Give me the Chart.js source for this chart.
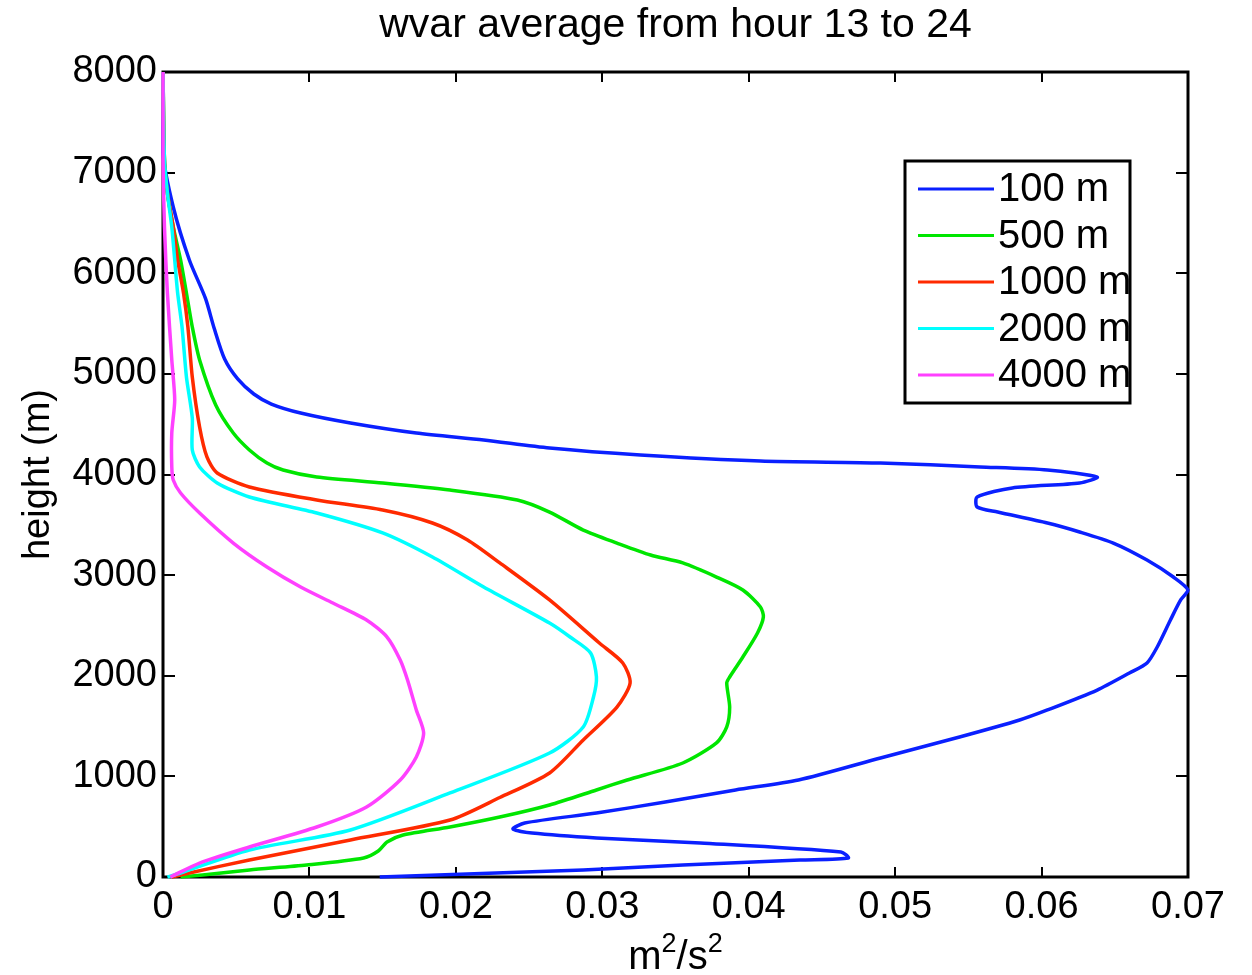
<!DOCTYPE html>
<html>
<head>
<meta charset="utf-8">
<script src="https://cdn.jsdelivr.net/npm/chart.js@4.4.1/dist/chart.umd.min.js"></script>
<style>
  html, body { margin: 0; padding: 0; background: #ffffff; }
  #wrap { width: 1252px; height: 975px; }
</style>
</head>
<body>
<div id="wrap"><canvas id="c" width="1252" height="975"></canvas></div>
<script>
// Profiles of vertical-velocity variance (m^2/s^2) against height (m)
const seriesLabels = ['100 m', '500 m', '1000 m', '2000 m', '4000 m'];
const seriesColors = ['#0a20ff', '#00e600', '#ff2a00', '#00ffff', '#ff40ff'];

const height100 = [0,70,119,169,189,248,338,388,437,477,537,636,745,865,964,1183,1391,1560,1660,1858,2027,2127,2286,2554,2753,2852,2981,3150,3319,3429,3518,3627,3677,3776,3866,3916,3975,4045,4075,4114,4134,4194,4263,4343,4412,4512,4611,4700,4800,4950,5150,5450,5750,6132,6658,7195,8000];
const wvar100 = [0.0148,0.0287,0.0355,0.0435,0.0468,0.0463,0.0367,0.0296,0.0252,0.0239,0.0247,0.0296,0.0343,0.0391,0.0434,0.049,0.0544,0.0585,0.0604,0.0638,0.066,0.0672,0.0679,0.0688,0.0695,0.07,0.069,0.0672,0.0649,0.0626,0.0604,0.057,0.0556,0.0556,0.058,0.0626,0.0638,0.0604,0.0558,0.049,0.0408,0.0326,0.0264,0.0219,0.0173,0.0128,0.0094,0.0074,0.0062,0.0051,0.0042,0.0035,0.0029,0.0018,0.0007,0,0];

const height500 = [0,20,70,119,189,258,348,417,497,596,716,865,964,1133,1332,1491,1689,1928,1988,2186,2425,2584,2683,2852,2981,3121,3200,3319,3448,3627,3747,3846,3916,3975,4045,4114,4244,4412,4691,5138,5466,5804,6132,6460,6798,7126,8000];
const wvar500 = [0.0012,0.0027,0.0059,0.0098,0.0137,0.0147,0.0153,0.0164,0.0196,0.023,0.0264,0.0296,0.0317,0.0355,0.0378,0.0385,0.0387,0.0385,0.0387,0.0396,0.0406,0.041,0.0408,0.0396,0.0378,0.0355,0.0333,0.031,0.0287,0.0264,0.0242,0.0196,0.015,0.0105,0.0082,0.0071,0.0059,0.0048,0.0036,0.0025,0.002,0.0016,0.0012,0.0007,0.0003,0.0001,0];

const height1000 = [0,40,169,368,566,790,1034,1362,1689,1928,2127,2325,2753,3121,3349,3518,3647,3747,3876,4015,4174,4472,4969,5466,5804,6132,6460,6798,7126,8000];
const wvar1000 = [0.0006,0.0018,0.0059,0.0128,0.0196,0.023,0.0264,0.0287,0.031,0.0319,0.0314,0.0298,0.0264,0.023,0.0208,0.0184,0.015,0.0105,0.0059,0.0037,0.003,0.0025,0.002,0.0017,0.0014,0.001,0.0007,0.0003,0.0001,0];

const height2000 = [0,40,268,467,835,1232,1491,1789,1988,2226,2385,2524,2882,3180,3419,3617,3776,3916,4075,4244,4562,4969,5466,5804,6132,6460,6798,7126,8000];
const wvar2000 = [0.0003,0.0012,0.0059,0.0128,0.0196,0.0264,0.0287,0.0294,0.0296,0.0292,0.0278,0.0264,0.0219,0.0184,0.015,0.0105,0.0059,0.0037,0.0025,0.002,0.002,0.0016,0.0013,0.001,0.0008,0.0006,0.0003,0.0001,0];

const height4000 = [0,139,298,497,696,964,1193,1431,1660,1958,2157,2385,2554,2723,2882,3081,3319,3617,3816,3945,4075,4412,4740,5138,5804,6460,7126,8000];
const wvar4000 = [0.0005,0.0025,0.0059,0.0105,0.0139,0.0162,0.0173,0.0178,0.0173,0.0167,0.0162,0.0153,0.0139,0.0116,0.0094,0.0071,0.0048,0.0025,0.0012,0.0007,0.0006,0.0006,0.0008,0.0006,0.0003,0.0001,0,0];

const xTicks = [0, 0.01, 0.02, 0.03, 0.04, 0.05, 0.06, 0.07];
const yTicks = [0, 1000, 2000, 3000, 4000, 5000, 6000, 7000, 8000];

const titleText = 'wvar average from hour 13 to 24';
// x-axis unit: base text pieces paired with superscripts
const xTitleParts = [['m', '2'], ['/s', '2']];
const yTitle = 'height (m)';

const FONT = '"Liberation Sans", Arial, Helvetica, sans-serif';

const profiles = [
  [height100, wvar100],
  [height500, wvar500],
  [height1000, wvar1000],
  [height2000, wvar2000],
  [height4000, wvar4000]
];

const datasets = profiles.map(([h, v], i) => ({
  label: seriesLabels[i],
  data: h.map((hh, k) => ({ x: v[k], y: hh })),
  borderColor: seriesColors[i],
  backgroundColor: seriesColors[i],
  borderWidth: 3.5,
  showLine: true,
  pointRadius: 0,
  tension: 0.25,
  fill: false,
  clip: 4,
  order: profiles.length - i
}));

// Box frame and inward tick marks sit underneath the curves
const framePlugin = {
  id: 'matlabFrame',
  beforeDatasetsDraw(chart) {
    const ctx = chart.ctx;
    const a = chart.chartArea;
    const xs = chart.scales.x, ys = chart.scales.y;
    ctx.save();
    ctx.strokeStyle = '#000';
    ctx.lineWidth = 2;
    ctx.beginPath();
    xTicks.forEach(t => {
      const px = Math.round(xs.getPixelForValue(t));
      ctx.moveTo(px, a.bottom); ctx.lineTo(px, a.bottom - 10);
      ctx.moveTo(px, a.top); ctx.lineTo(px, a.top + 10);
    });
    yTicks.forEach(t => {
      const py = Math.round(ys.getPixelForValue(t));
      ctx.moveTo(a.left, py); ctx.lineTo(a.left + 12, py);
      ctx.moveTo(a.right, py); ctx.lineTo(a.right - 12, py);
    });
    ctx.stroke();
    ctx.lineWidth = 3;
    ctx.strokeRect(a.left, a.top, a.right - a.left, a.bottom - a.top);
    ctx.restore();
  },
  // title, unit label and in-axes legend
  afterDraw(chart) {
    const ctx = chart.ctx;
    const a = chart.chartArea;
    ctx.save();
    ctx.fillStyle = '#000';
    ctx.font = '41px ' + FONT;
    ctx.textAlign = 'center';
    ctx.textBaseline = 'middle';
    ctx.fillText(titleText, (a.left + a.right) / 2, 26);

    const baseFont = '40px ' + FONT, supFont = '27px ' + FONT;
    let total = 0;
    xTitleParts.forEach(([b, s]) => {
      ctx.font = baseFont; total += ctx.measureText(b).width;
      ctx.font = supFont; total += ctx.measureText(s).width;
    });
    let cx = (a.left + a.right) / 2 - total / 2;
    const base = 969;
    ctx.textAlign = 'left';
    ctx.textBaseline = 'alphabetic';
    xTitleParts.forEach(([b, s]) => {
      ctx.font = baseFont; ctx.fillText(b, cx, base); cx += ctx.measureText(b).width;
      ctx.font = supFont; ctx.fillText(s, cx, base - 17); cx += ctx.measureText(s).width;
    });

    const lx = 905, ly = 161, lw = 225, lh = 242;
    ctx.fillStyle = '#fff';
    ctx.fillRect(lx, ly, lw, lh);
    ctx.save();
    ctx.beginPath();
    ctx.rect(lx, ly, lw, lh);
    ctx.clip();
    chart.data.datasets.forEach((ds, i) => {
      const ry = 189 + i * 46.5;
      ctx.strokeStyle = ds.borderColor;
      ctx.lineWidth = 3;
      ctx.beginPath();
      ctx.moveTo(918, ry); ctx.lineTo(994, ry);
      ctx.stroke();
      ctx.fillStyle = '#000';
      ctx.font = '40px ' + FONT;
      ctx.textAlign = 'left';
      ctx.textBaseline = 'middle';
      ctx.fillText(ds.label, 998, ry + 1);
    });
    ctx.restore();
    ctx.strokeStyle = '#000';
    ctx.lineWidth = 3;
    ctx.strokeRect(lx, ly, lw, lh);
    ctx.restore();
  }
};

new Chart(document.getElementById('c'), {
  type: 'scatter',
  data: { datasets },
  plugins: [framePlugin],
  options: {
    responsive: false,
    animation: false,
    events: [],
    layout: { padding: { top: 72, right: 64, left: 0, bottom: 0 } },
    plugins: {
      legend: { display: false },
      title: { display: false },
      tooltip: { enabled: false }
    },
    scales: {
      x: {
        type: 'linear',
        min: 0, max: 0.07,
        afterBuildTicks(scale) { scale.ticks = xTicks.map(v => ({ value: v })); },
        afterFit(scale) { scale.height = 98; },
        grid: { display: false, drawTicks: false },
        border: { display: false },
        ticks: {
          padding: 8,
          color: '#000',
          font: { family: FONT, size: 38 },
          maxRotation: 0,
          callback: v => (v === 0 ? '0' : String(+v.toFixed(2)))
        },
        title: { display: false }
      },
      y: {
        type: 'linear',
        min: 0, max: 8000,
        afterBuildTicks(scale) { scale.ticks = yTicks.map(v => ({ value: v })); },
        afterFit(scale) { scale.width = 163; },
        grid: { display: false, drawTicks: false },
        border: { display: false },
        ticks: {
          padding: 6,
          color: '#000',
          font: { family: FONT, size: 38 },
          callback: v => String(v)
        },
        title: {
          display: true,
          text: yTitle,
          color: '#000',
          font: { family: FONT, size: 38 },
          padding: { top: 16, bottom: 0 }
        }
      }
    }
  }
});
</script>
</body>
</html>
